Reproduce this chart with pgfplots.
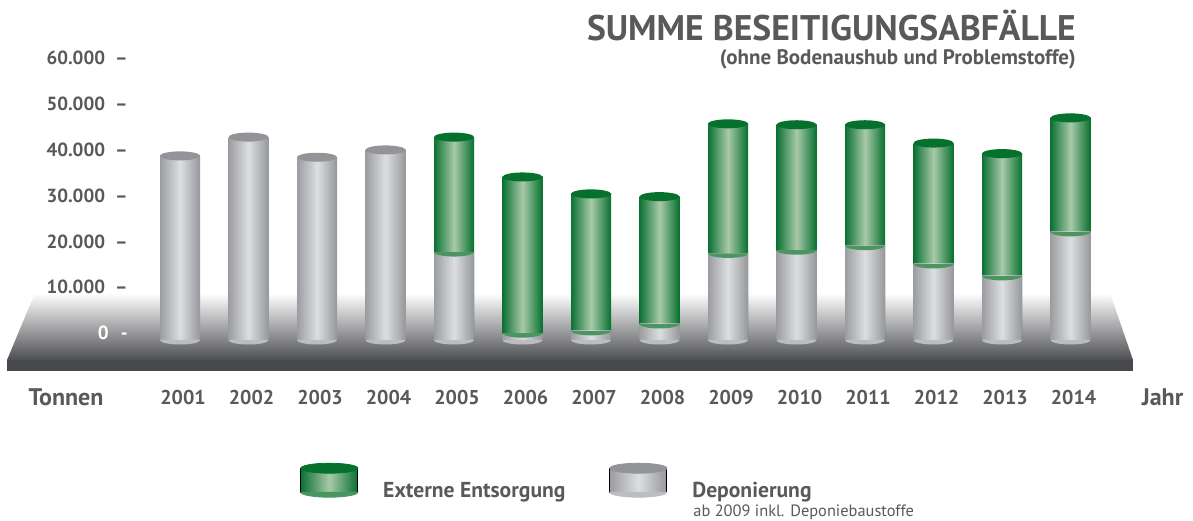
\documentclass[border=0pt]{standalone}
\usepackage{fontspec}
\setmainfont{PT Sans}
\usepackage{pgfplots}
\usepackage{pgfplotstable}
\pgfplotsset{compat=1.18}

\definecolor{txt}{HTML}{58595B}
\definecolor{grauL}{HTML}{9C9DA0}
\definecolor{grauM}{HTML}{DDDEE0}
\definecolor{grauR}{HTML}{96979A}
\definecolor{grauTop}{HTML}{939497}
\definecolor{grauBot}{HTML}{BCBDC0}
\definecolor{gruenL}{HTML}{0B7233}
\definecolor{gruenM}{HTML}{A9C9A9}
\definecolor{gruenR}{HTML}{07702F}
\definecolor{gruenTop}{HTML}{06702D}
\definecolor{gruenBot}{HTML}{4A9560}
\definecolor{bodenM}{HTML}{A5A6A8}
\definecolor{bodenU}{HTML}{4E4F52}
\definecolor{front}{HTML}{47484B}

% cylinder caps
\pgfdeclareplotmark{cyltop}{%
  \pgfpathellipse{\pgfpointorigin}{\pgfqpoint{\pgfplotmarksize}{0pt}}{\pgfqpoint{0pt}{0.225\pgfplotmarksize}}%
  \pgfusepathqfill}
\pgfdeclareplotmark{cylbot}{%
  \pgfpathmoveto{\pgfqpoint{-\pgfplotmarksize}{0pt}}%
  \pgfpatharc{180}{360}{\pgfplotmarksize and 0.225*\pgfplotmarksize}%
  \pgfpathclose\pgfusepathqfill}

\pgfplotsset{
  gruenbar/.style={ybar, bar width=20pt, bar shift=0pt, draw=none,
    left color=gruenL, right color=gruenR, middle color=gruenM},
  graubar/.style={ybar, bar width=20pt, bar shift=0pt, draw=none,
    left color=grauL, right color=grauR, middle color=grauM},
}

% Tonnen
\pgfplotstableread{
x jahr grau gruen
0  2001 40200 0
1  2002 44300 0
2  2003 39900 0
3  2004 41500 0
4  2005 19200 25100
5  2006 1500 34100
6  2007 2000 29900
7  2008 3500 27800
8  2009 18900 28300
9  2010 19600 27400
10 2011 20600 26400
11 2012 16600 26400
12 2013 14000 26700
13 2014 23600 24900
}\daten

\begin{document}
\begin{tikzpicture}[font=\bfseries, text=txt]
\useasboundingbox (0,0) rectangle (596.5pt,260pt);
% floor
\shade[top color=white, middle color=bodenM, bottom color=bodenU]
  (17.5pt,113.5pt) -- (555pt,113.5pt) -- (566.5pt,80pt) -- (3.5pt,80pt) -- cycle;
\fill[front] (3.5pt,80pt) rectangle (566.5pt,74.5pt);

% value axis
\begin{axis}[
  at={(0,0)}, anchor=south west, scale only axis,
  width=596.5pt, height=260pt,
  xmin=0, xmax=1193, ymin=-40830, ymax=72707,
  axis line style={draw=none}, major tick style={draw=none},
  xtick=\empty, scaled y ticks=false,
  ytick={0,10000,20000,30000,40000,50000,60000},
  yticklabels={\textcolor{white}{0\hspace{6pt}-},10.000\hspace{5pt}–,20.000\hspace{5pt}–,30.000\hspace{5pt}–,40.000\hspace{5pt}–,50.000\hspace{5pt}–,60.000\hspace{5pt}–},
  yticklabel style={anchor=east, inner sep=0pt, xshift=64pt, font=\fontsize{9.5}{11}\bfseries, text=txt},
  ylabel={Tonnen}, ylabel style={rotate=-90, at={(axis description cs:0.0553,0.2365)}, anchor=center, font=\fontsize{12}{14}\bfseries, text=txt},
  xlabel={Jahr}, xlabel style={at={(axis description cs:0.9744,0.2365)}, anchor=center, font=\fontsize{12}{14}\bfseries, text=txt},
  title={SUMME BESEITIGUNGSABFÄLLE},
  every axis title shift=0pt,
  title style={at={(axis description cs:0.902,0.9215)}, anchor=base east, inner sep=0pt, font=\fontsize{17.8}{20}\bfseries, text=txt},
  clip=false,
]
\node[anchor=base east, inner sep=0pt, font=\fontsize{10.5}{12}\bfseries, text=txt]
  at (axis description cs:0.902,0.8750) {(ohne Bodenaushub und Problemstoffe)};
\end{axis}

% bars
\begin{axis}[
  at={(0,0)}, anchor=south west, scale only axis,
  width=596.5pt, height=260pt,
  xmin=-2.6277, xmax=14.788, ymin=-39301, ymax=74236,
  axis line style={draw=none}, major tick style={draw=none},
  ytick=\empty, scaled y ticks=false,
  xtick={0,...,13},
  xticklabels={2001,2002,2003,2004,2005,2006,2007,2008,2009,2010,2011,2012,2013,2014},
  xticklabel style={anchor=center, inner sep=0pt, xshift=1.5pt, yshift=61.5pt, font=\fontsize{10}{12}\bfseries, text=txt},
  clip=false,
  legend columns=2,
  legend style={at={(axis description cs:0.2515,0.0700)}, anchor=west, draw=none, fill=none,
    inner sep=0pt, font=\fontsize{10.8}{12}\bfseries, text=txt,
    /tikz/every odd column/.append style={column sep=10.5pt},
    /tikz/every even column/.append style={column sep=20pt}},
]
% one plot per bar, so that each cylinder gets its own shading
\pgfplotsinvokeforeach{4,...,13}{
  \addplot[gruenbar, forget plot, restrict x to domain=#1:#1]
    table[x=x, y expr=\thisrow{grau}+\thisrow{gruen}]{\daten};
}
\pgfplotsinvokeforeach{0,...,13}{
  \addplot[graubar, forget plot, restrict x to domain=#1:#1]
    table[x=x, y=grau]{\daten};
}
% caps
\addplot[forget plot, only marks, mark=cylbot, mark size=10pt, mark options={fill=grauBot}]
  table[x=x, y expr=0]{\daten};
\addplot[forget plot, only marks, mark=cylbot, mark size=10pt, mark options={fill=gruenBot},
  skip coords between index={0}{4}]
  table[x=x, y=grau]{\daten};
\addplot[forget plot, only marks, mark=cyltop, mark size=10pt, mark options={fill=grauTop},
  skip coords between index={4}{14}]
  table[x=x, y=grau]{\daten};
\addplot[forget plot, only marks, mark=cyltop, mark size=10pt, mark options={fill=gruenTop},
  skip coords between index={0}{4}]
  table[x=x, y expr=\thisrow{grau}+\thisrow{gruen}]{\daten};
% legend
\addlegendimage{legend image code/.code={
    \shade[left color=gruenL, right color=gruenR, middle color=gruenM] (0pt,-0.5pt) rectangle (28.5pt,11.5pt);
    \fill[gruenBot] (0pt,-0.5pt) arc[start angle=180, end angle=360, x radius=14.25pt, y radius=2.5pt] -- cycle;
    \fill[gruenTop] (14.25pt,11.5pt) ellipse [x radius=14.25pt, y radius=2.5pt];
  }}
\addlegendentry{Externe Entsorgung}
\addlegendimage{legend image code/.code={
    \shade[left color=grauL, right color=grauR, middle color=grauM] (0pt,-0.5pt) rectangle (28.5pt,11.5pt);
    \fill[grauBot] (0pt,-0.5pt) arc[start angle=180, end angle=360, x radius=14.25pt, y radius=2.5pt] -- cycle;
    \fill[grauTop] (14.25pt,11.5pt) ellipse [x radius=14.25pt, y radius=2.5pt];
  }}
\addlegendentry{Deponierung}
\node[anchor=west, inner sep=0pt, font=\fontsize{8.2}{10}\selectfont, text=txt]
  at (axis description cs:0.5809,0.0145) {ab 2009 inkl. Deponiebaustoffe};
\end{axis}
\end{tikzpicture}
\end{document}
